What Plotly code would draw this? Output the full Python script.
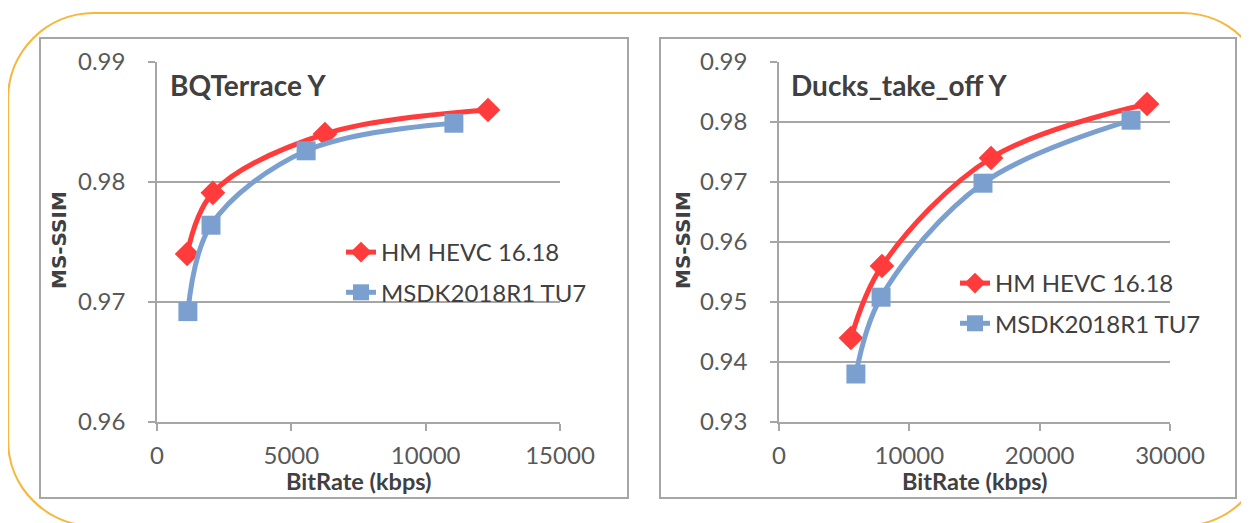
import plotly.graph_objects as go

W, H = 1249, 523
OFF = 8  # page body margin: figure is drawn starting at page pixel (8, 8)

# ---------------- data ----------------
bq_hm_rate = [1120, 2080, 6250, 12320]
bq_hm_ssim = [0.9740, 0.9791, 0.9840, 0.9860]
bq_msdk_rate = [1150, 2010, 5550, 11050]
bq_msdk_ssim = [0.9692, 0.9764, 0.9826, 0.9849]

duck_hm_rate = [5520, 7900, 16270, 28240]
duck_hm_ssim = [0.9440, 0.9560, 0.9740, 0.9830]
duck_msdk_rate = [5900, 7830, 15650, 27010]
duck_msdk_ssim = [0.9380, 0.9508, 0.9698, 0.9803]

series_names = ["HM HEVC 16.18", "MSDK2018R1 TU7"]
panel_titles = ["BQTerrace Y", "Ducks_take_off Y"]
x_title = "BitRate (kbps)"
y_title = "MS-SSIM"

RED = "#FF3B3B"
BLUE = "#7BA0D0"
GRAY = "#A6A6A6"
ORANGE = "#F5B83D"
FONT = "Lato"


def fx(x):
    return (x - OFF) / W


def fy(y):
    return 1 - (y - OFF) / H


fig = go.Figure()

panels = [
    dict(xa="x", ya="y", leg="legend", hm=(bq_hm_rate, bq_hm_ssim), ms=(bq_msdk_rate, bq_msdk_ssim)),
    dict(xa="x2", ya="y2", leg="legend2", hm=(duck_hm_rate, duck_hm_ssim), ms=(duck_msdk_rate, duck_msdk_ssim)),
]

for i, p in enumerate(panels):
    fig.add_trace(go.Scatter(
        x=p["hm"][0], y=p["hm"][1], name=series_names[0], mode="lines+markers",
        line=dict(color=RED, width=5, shape="spline", smoothing=1.0),
        marker=dict(symbol="diamond", size=19, color=RED),
        xaxis=p["xa"], yaxis=p["ya"], legend=p["leg"], legendgroup=f"a{i}",
    ))
    fig.add_trace(go.Scatter(
        x=p["ms"][0], y=p["ms"][1], name=series_names[1], mode="lines+markers",
        line=dict(color=BLUE, width=5, shape="spline", smoothing=1.0),
        marker=dict(symbol="square", size=19, color=BLUE),
        xaxis=p["xa"], yaxis=p["ya"], legend=p["leg"], legendgroup=f"b{i}",
    ))

tickfont = dict(family=FONT, size=24, color="#595959")

common_x = dict(showline=True, linecolor=GRAY, linewidth=1.5, ticks="outside", ticklen=7,
                tickcolor=GRAY, tickwidth=1.5, showgrid=False, zeroline=False, automargin=False,
                tickfont=tickfont, fixedrange=True, ticklabelstandoff=4, tickformat="d")
common_y = dict(showline=True, linecolor=GRAY, linewidth=1.5, ticks="outside", ticklen=7,
                tickcolor=GRAY, tickwidth=1.5, showgrid=True, gridcolor=GRAY, gridwidth=1.5,
                zeroline=False, tickfont=tickfont, tickformat=".2f", fixedrange=True,
                ticklabelstandoff=18, automargin=False)

ydom = [fy(422), fy(62)]

legfont = dict(family=FONT, size=24, color="#404040")

fig.update_layout(
    width=W, height=H,
    margin=dict(l=0, r=0, t=0, b=0, autoexpand=False),
    paper_bgcolor="white", plot_bgcolor="white",
    xaxis=dict(domain=[fx(157), fx(560)], range=[0, 15000], dtick=5000, anchor="y", **common_x),
    yaxis=dict(domain=ydom, range=[0.96, 0.99], dtick=0.01, anchor="x", **common_y),
    xaxis2=dict(domain=[fx(779), fx(1170)], range=[0, 30000], dtick=10000, anchor="y2", **common_x),
    yaxis2=dict(domain=ydom, range=[0.93, 0.99], dtick=0.01, anchor="x2", **common_y),
    legend=dict(x=fx(341), y=fy(230), xanchor="left", yanchor="top", bgcolor="rgba(0,0,0,0)",
                font=legfont, itemwidth=30, tracegroupgap=6, traceorder="grouped"),
    legend2=dict(x=fx(955), y=fy(261), xanchor="left", yanchor="top", bgcolor="rgba(0,0,0,0)",
                 font=legfont, itemwidth=30, tracegroupgap=6, traceorder="grouped"),
    showlegend=True,
)

# panel titles
for (xp, t) in [(168, panel_titles[0]), (789, panel_titles[1])]:
    fig.add_annotation(x=fx(xp), y=fy(85), xref="paper", yref="paper", text=f"<b>{t}</b>",
                       showarrow=False, xanchor="left", yanchor="middle",
                       font=dict(family=FONT, size=28, color="#404040"))

# axis titles
for xc in [358.5, 974.5]:
    fig.add_annotation(x=fx(xc), y=fy(481), xref="paper", yref="paper", text=f"<b>{x_title}</b>",
                       showarrow=False, xanchor="center", yanchor="middle",
                       font=dict(family=FONT, size=23.5, color="#404040"))
for xc in [59, 683]:
    fig.add_annotation(x=fx(xc), y=fy(240), xref="paper", yref="paper", text=f"<b>{y_title}</b>",
                       showarrow=False, xanchor="center", yanchor="middle", textangle=-90,
                       font=dict(family="DejaVu Sans", size=20, color="#404040"))

# panel borders
for (x0, x1) in [(40, 628), (660, 1236)]:
    fig.add_shape(type="rect", xref="paper", yref="paper", x0=fx(x0), x1=fx(x1), y0=fy(498), y1=fy(38),
                  line=dict(color=GRAY, width=2), fillcolor="rgba(0,0,0,0)", layer="below")

# outer rounded frame (cubic bezier corners)
L, T, R, B, r = 8, 13, 1268, 526, 86
k = 0.5523 * r


def P(x, y):
    return f"{fx(x):.5f},{fy(y):.5f}"


path = (f"M{P(L + r, T)} L{P(R - r, T)} C{P(R - r + k, T)} {P(R, T + r - k)} {P(R, T + r)} "
        f"L{P(R, B - r)} C{P(R, B - r + k)} {P(R - r + k, B)} {P(R - r, B)} "
        f"L{P(L + r, B)} C{P(L + r - k, B)} {P(L, B - r + k)} {P(L, B - r)} "
        f"L{P(L, T + r)} C{P(L, T + r - k)} {P(L + r - k, T)} {P(L + r, T)} Z")
fig.add_shape(type="path", path=path, xref="paper", yref="paper",
              line=dict(color=ORANGE, width=2.2), layer="below")

fig.write_html("out.html", config={"displayModeBar": False})
